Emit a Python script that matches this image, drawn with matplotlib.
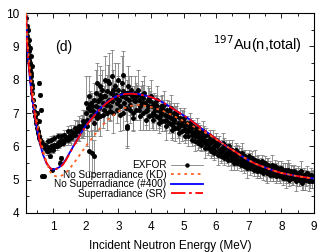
import numpy as np
import matplotlib
matplotlib.use("Agg")
import matplotlib.pyplot as plt
from matplotlib.lines import Line2D
from matplotlib.ticker import MultipleLocator

plt.rcParams['font.family'] = ['Liberation Sans', 'DejaVu Sans']

# -----------------------------
# EXFOR data
# -----------------------------

# steep low-energy branch
low_e = [0.18, 0.19, 0.20, 0.21, 0.22, 0.23, 0.24, 0.25, 0.26, 0.27,
         0.28, 0.29, 0.30, 0.31, 0.32, 0.33, 0.34, 0.35, 0.36, 0.38,
         0.40, 0.42, 0.44, 0.46, 0.48, 0.50, 0.52, 0.54, 0.56, 0.58,
         0.60, 0.62, 0.64, 0.66, 0.68, 0.70, 0.72, 0.74, 0.76, 0.78,
         0.22, 0.25, 0.28, 0.31, 0.34, 0.58, 0.60, 0.63, 0.50, 0.55,
         0.66, 0.71, 0.95, 1.20, 0.90, 1.25]
low_xs = [9.85, 9.6, 9.45, 9.3, 9.2, 9.05, 8.95, 8.85, 8.7, 8.6,
          8.5, 8.4, 8.3, 8.2, 8.1, 7.95, 7.85, 7.75, 7.6, 7.4,
          7.2, 7.05, 6.9, 6.8, 6.7, 6.55, 6.45, 6.4, 6.3, 6.25,
          6.2, 6.15, 6.1, 6.1, 6.05, 6.0, 6.0, 6.05, 5.95, 6.0,
          9.5, 9.2, 8.95, 8.7, 8.4, 7.9, 7.55, 7.1, 7.0, 6.75,
          5.1, 5.1, 5.3, 5.5, 5.7, 5.65]
low_err = [0.08, 0.08, 0.07, 0.07, 0.07, 0.06, 0.06, 0.06, 0.06, 0.06,
           0.06, 0.05, 0.05, 0.05, 0.05, 0.05, 0.05, 0.05, 0.05, 0.05,
           0.05, 0.05, 0.05, 0.05, 0.05, 0.05, 0.05, 0.05, 0.05, 0.05,
           0.1, 0.1, 0.1, 0.1, 0.1, 0.1, 0.1, 0.1, 0.1, 0.1,
           0.05, 0.05, 0.05, 0.05, 0.05, 0.05, 0.05, 0.05, 0.05, 0.05,
           0.05, 0.05, 0.05, 0.05, 0.05, 0.05]

# plateau between the minimum and 2 MeV
mid_e = [0.80, 0.82, 0.85, 0.88, 0.90, 0.92, 0.95, 0.98, 1.00, 1.03,
         1.06, 1.09, 1.12, 1.15, 1.18, 1.21, 1.24, 1.27, 1.30, 1.33,
         1.36, 1.40, 1.44, 1.48, 1.52, 1.56, 1.60, 1.64, 1.68, 1.72,
         1.76, 1.80, 1.84, 1.88, 1.92, 1.96,
         0.84, 0.94, 1.04, 1.14, 1.24, 1.34, 1.45, 1.55, 1.66, 1.78,
         1.90, 2.10, 2.20, 2.25]
mid_xs = [5.85, 5.9, 5.85, 5.95, 5.9, 6.0, 5.95, 6.0, 5.9, 6.05,
          6.0, 6.05, 6.0, 6.1, 6.05, 6.15, 6.1, 6.15, 6.1, 6.2,
          6.2, 6.25, 6.2, 6.3, 6.3, 6.25, 6.35, 6.4, 6.35, 6.45,
          6.5, 6.45, 6.55, 6.6, 6.6, 6.7,
          6.15, 6.2, 6.25, 6.3, 6.3, 6.35, 6.45, 6.45, 6.55, 6.6,
          6.75, 5.85, 5.8, 5.7]
mid_err = [0.1, 0.1, 0.1, 0.1, 0.1, 0.1, 0.1, 0.1, 0.1, 0.1,
           0.1, 0.1, 0.1, 0.1, 0.1, 0.1, 0.1, 0.1, 0.1, 0.1,
           0.15, 0.15, 0.15, 0.15, 0.2, 0.2, 0.2, 0.25, 0.25, 0.3,
           0.3, 0.3, 0.3, 0.35, 0.35, 0.4,
           0.1, 0.1, 0.1, 0.1, 0.1, 0.15, 0.15, 0.2, 0.25, 0.3,
           0.35, 0.6, 0.7, 0.5]

# high-energy cloud, upper part
hiA_e = [2.0, 2.1, 2.2, 2.3, 2.4, 2.5, 2.6, 2.7, 2.8, 2.9,
         3.0, 3.1, 3.2, 3.3, 3.4, 3.5, 3.6, 3.7, 3.8, 3.9,
         4.0, 4.1, 4.2, 4.3, 4.4, 4.5, 4.6, 4.7, 4.8, 4.9,
         5.0, 5.1, 5.2, 5.3, 5.4, 5.5, 5.6, 5.7, 5.8, 5.9,
         6.0, 6.1, 6.2, 6.3, 6.4, 6.5, 6.6, 6.7, 6.8, 6.9,
         7.0, 7.1, 7.2, 7.3, 7.4, 7.5, 7.6, 7.7, 7.8, 7.9,
         8.0, 8.1, 8.2, 8.3, 8.4, 8.5, 8.6, 8.7, 8.8, 8.9, 9.0]
hiA_xs = [7.3, 7.5, 7.2, 7.6, 7.4, 7.7, 7.5, 7.9, 7.6, 7.8,
          7.7, 7.9, 7.6, 7.8, 7.7, 7.6, 7.7, 7.5, 7.6, 7.4,
          7.5, 7.3, 7.4, 7.2, 7.25, 7.1, 7.15, 7.0, 7.0, 6.85,
          6.85, 6.7, 6.7, 6.6, 6.55, 6.45, 6.45, 6.35, 6.3, 6.2,
          6.2, 6.1, 6.1, 6.0, 6.0, 5.9, 5.9, 5.8, 5.8, 5.7,
          5.7, 5.65, 5.6, 5.55, 5.55, 5.5, 5.45, 5.45, 5.4, 5.35,
          5.35, 5.3, 5.3, 5.25, 5.25, 5.2, 5.25, 5.15, 5.2, 5.15, 5.1]
hiA_err = [0.8, 0.6, 0.4, 0.7, 0.5, 0.6, 0.4, 0.9, 0.5, 0.7,
           0.4, 0.8, 0.5, 0.6, 0.4, 0.5, 0.6, 0.3, 0.5, 0.4,
           0.5, 0.3, 0.4, 0.3, 0.4, 0.3, 0.4, 0.3, 0.3, 0.3,
           0.3, 0.2, 0.3, 0.2, 0.3, 0.2, 0.3, 0.2, 0.2, 0.3,
           0.2, 0.2, 0.3, 0.2, 0.2, 0.3, 0.2, 0.2, 0.3, 0.2,
           0.2, 0.2, 0.3, 0.2, 0.2, 0.2, 0.2, 0.3, 0.2, 0.2,
           0.2, 0.2, 0.3, 0.2, 0.2, 0.2, 0.3, 0.2, 0.2, 0.2, 0.2]

# high-energy cloud, lower part
hiB_e = [2.05, 2.15, 2.25, 2.35, 2.45, 2.55, 2.65, 2.75, 2.85, 2.95,
         3.05, 3.15, 3.25, 3.35, 3.45, 3.55, 3.65, 3.75, 3.85, 3.95,
         4.05, 4.15, 4.25, 4.35, 4.45, 4.55, 4.65, 4.75, 4.85, 4.95,
         5.05, 5.15, 5.25, 5.35, 5.45, 5.55, 5.65, 5.75, 5.85, 5.95,
         6.05, 6.15, 6.25, 6.35, 6.45, 6.55, 6.65, 6.75, 6.85, 6.95,
         7.05, 7.15, 7.25, 7.35, 7.45, 7.55, 7.65, 7.75, 7.85, 7.95,
         8.05, 8.15, 8.25, 8.35, 8.45, 8.55, 8.65, 8.75, 8.85, 8.95]
hiB_xs = [6.8, 6.9, 6.7, 7.0, 6.9, 7.1, 7.0, 7.2, 7.0, 7.1,
          7.2, 7.0, 6.6, 7.1, 7.0, 7.1, 6.9, 7.0, 6.8, 6.9,
          6.8, 6.9, 6.7, 6.75, 6.6, 6.7, 6.5, 6.55, 6.4, 6.45,
          6.3, 6.3, 6.2, 6.15, 6.1, 6.05, 5.95, 5.95, 5.85, 5.8,
          5.75, 5.7, 5.65, 5.6, 5.6, 5.5, 5.5, 5.45, 5.4, 5.35,
          5.35, 5.3, 5.25, 5.25, 5.2, 5.2, 5.15, 5.15, 5.1, 5.1,
          5.05, 5.05, 5.0, 5.05, 4.95, 5.0, 4.9, 5.0, 4.95, 4.95]
hiB_err = [0.5, 0.6, 0.4, 0.5, 0.6, 0.4, 0.5, 0.4, 0.6, 0.4,
           0.3, 0.5, 0.6, 0.4, 0.5, 0.3, 0.4, 0.5, 0.3, 0.4,
           0.3, 0.4, 0.3, 0.3, 0.4, 0.3, 0.3, 0.4, 0.3, 0.3,
           0.2, 0.3, 0.2, 0.3, 0.2, 0.2, 0.3, 0.2, 0.2, 0.2,
           0.3, 0.2, 0.2, 0.2, 0.3, 0.2, 0.2, 0.2, 0.2, 0.3,
           0.2, 0.2, 0.2, 0.2, 0.2, 0.3, 0.2, 0.2, 0.2, 0.2,
           0.2, 0.3, 0.2, 0.2, 0.3, 0.2, 0.2, 0.2, 0.3, 0.2]

# high-energy cloud, middle
hiC_e = [2.02, 2.12, 2.22, 2.32, 2.42, 2.52, 2.62, 2.72, 2.82, 2.92,
         3.02, 3.12, 3.22, 3.32, 3.42, 3.52, 3.62, 3.72, 3.82, 3.92,
         4.02, 4.12, 4.22, 4.32, 4.42, 4.52, 4.62, 4.72, 4.82, 4.92,
         5.02, 5.12, 5.22, 5.32, 5.42, 5.52, 5.62, 5.72, 5.82, 5.92,
         6.02, 6.12, 6.22, 6.32, 6.42, 6.52, 6.62, 6.72, 6.82, 6.92,
         7.02, 7.12, 7.22, 7.32, 7.42, 7.52, 7.62, 7.72, 7.82, 7.92,
         8.02, 8.12, 8.22, 8.32, 8.42, 8.52, 8.62, 8.72, 8.82, 8.92,
         2.45, 2.60, 2.80, 3.00, 3.15, 2.35, 2.68, 3.28]
hiC_xs = [7.0, 7.1, 7.05, 7.2, 7.15, 7.3, 7.25, 7.4, 7.35, 7.45,
          7.4, 7.5, 7.45, 7.4, 7.5, 7.35, 7.4, 7.3, 7.3, 7.2,
          7.2, 7.1, 7.1, 7.0, 6.95, 6.9, 6.85, 6.8, 6.7, 6.65,
          6.6, 6.5, 6.45, 6.4, 6.3, 6.25, 6.2, 6.15, 6.1, 6.0,
          6.0, 5.9, 5.85, 5.8, 5.8, 5.7, 5.7, 5.6, 5.6, 5.55,
          5.5, 5.45, 5.4, 5.4, 5.35, 5.35, 5.3, 5.25, 5.25, 5.2,
          5.2, 5.15, 5.15, 5.1, 5.1, 5.1, 5.05, 5.1, 5.05, 5.05,
          7.8, 8.0, 8.1, 8.0, 8.15, 7.9, 7.95, 6.55]
hiC_err = [0.3, 0.2, 0.3, 0.2, 0.3, 0.2, 0.3, 0.2, 0.3, 0.2,
           0.2, 0.3, 0.2, 0.2, 0.3, 0.2, 0.2, 0.3, 0.2, 0.2,
           0.2, 0.2, 0.2, 0.2, 0.2, 0.2, 0.2, 0.2, 0.2, 0.2,
           0.15, 0.15, 0.15, 0.15, 0.15, 0.15, 0.15, 0.15, 0.15, 0.15,
           0.15, 0.15, 0.15, 0.15, 0.15, 0.15, 0.15, 0.15, 0.15, 0.15,
           0.15, 0.15, 0.15, 0.15, 0.15, 0.15, 0.15, 0.15, 0.15, 0.15,
           0.15, 0.15, 0.15, 0.15, 0.15, 0.15, 0.15, 0.15, 0.15, 0.15,
           0.6, 0.7, 0.8, 0.5, 0.7, 0.6, 0.5, 0.6]

# more points in the dense cloud
hiD_e = [2.07, 2.17, 2.27, 2.37, 2.47, 2.57, 2.67, 2.77, 2.87, 2.97,
         3.07, 3.17, 3.27, 3.37, 3.47, 3.57, 3.67, 3.77, 3.87, 3.97,
         4.07, 4.17, 4.27, 4.37, 4.47, 4.57, 4.67, 4.77, 4.87, 4.97,
         5.07, 5.17, 5.27, 5.37, 5.47, 5.57, 5.67, 5.77, 5.87, 5.97,
         6.07, 6.17, 6.27, 6.37, 6.47, 6.57, 6.67, 6.77, 6.87, 6.97,
         7.07, 7.17, 7.27, 7.37, 7.47, 7.57, 7.67, 7.77, 7.87, 7.97,
         8.07, 8.17, 8.27, 8.37, 8.47, 8.57, 8.67, 8.77, 8.87, 8.97]
hiD_xs = [7.15, 7.3, 6.95, 7.35, 7.45, 7.5, 7.35, 7.6, 7.5, 7.3,
          7.55, 7.3, 7.6, 7.25, 7.4, 7.55, 7.2, 7.45, 7.1, 7.35,
          7.0, 7.25, 6.9, 7.1, 6.8, 7.0, 6.7, 6.9, 6.6, 6.75,
          6.45, 6.6, 6.35, 6.5, 6.2, 6.35, 6.1, 6.2, 5.95, 6.1,
          5.85, 5.95, 5.75, 5.9, 5.7, 5.8, 5.6, 5.7, 5.5, 5.6,
          5.45, 5.5, 5.35, 5.45, 5.3, 5.4, 5.25, 5.3, 5.2, 5.25,
          5.15, 5.25, 5.1, 5.2, 5.05, 5.15, 5.0, 5.1, 5.0, 5.1]
hiD_err = [0.4, 0.3, 0.5, 0.3, 0.4, 0.3, 0.5, 0.3, 0.4, 0.3,
           0.4, 0.3, 0.4, 0.3, 0.4, 0.3, 0.3, 0.4, 0.3, 0.3,
           0.3, 0.3, 0.3, 0.3, 0.3, 0.3, 0.3, 0.3, 0.3, 0.3,
           0.25, 0.2, 0.25, 0.2, 0.25, 0.2, 0.25, 0.2, 0.25, 0.2,
           0.2, 0.25, 0.2, 0.2, 0.25, 0.2, 0.2, 0.25, 0.2, 0.2,
           0.2, 0.2, 0.25, 0.2, 0.2, 0.25, 0.2, 0.2, 0.25, 0.2,
           0.2, 0.25, 0.2, 0.2, 0.25, 0.2, 0.3, 0.2, 0.25, 0.2]

hiE_e = [2.04, 2.14, 2.24, 2.34, 2.44, 2.54, 2.64, 2.74, 2.84, 2.94,
         3.04, 3.14, 3.24, 3.34, 3.44, 3.54, 3.64, 3.74, 3.84, 3.94,
         4.04, 4.14, 4.24, 4.34, 4.44, 4.54, 4.64, 4.74, 4.84, 4.94,
         5.04, 5.14, 5.24, 5.34, 5.44, 5.54, 5.64, 5.74, 5.84, 5.94,
         6.04, 6.14, 6.24, 6.34, 6.44, 6.54, 6.64, 6.74, 6.84, 6.94,
         7.04, 7.14, 7.24, 7.34, 7.44, 7.54, 7.64, 7.74, 7.84, 7.94,
         8.04, 8.14, 8.24, 8.34, 8.44, 8.54, 8.64, 8.74, 8.84, 8.94]
hiE_xs = [6.6, 7.25, 7.4, 6.85, 7.55, 6.95, 7.65, 7.05, 7.7, 7.55,
          6.95, 7.65, 7.15, 7.6, 6.85, 7.5, 7.1, 7.55, 7.05, 7.45,
          6.95, 7.2, 6.85, 7.15, 6.75, 7.05, 6.65, 6.9, 6.55, 6.8,
          6.5, 6.45, 6.55, 6.3, 6.4, 6.15, 6.3, 6.05, 6.15, 5.9,
          6.05, 5.8, 5.95, 5.7, 5.85, 5.6, 5.75, 5.55, 5.65, 5.45,
          5.55, 5.4, 5.5, 5.3, 5.4, 5.25, 5.35, 5.2, 5.3, 5.15,
          5.25, 5.1, 5.2, 5.05, 5.15, 5.05, 5.1, 5.0, 5.05, 5.0]
hiE_err = [0.6, 0.4, 0.5, 0.4, 0.6, 0.4, 0.5, 0.3, 0.6, 0.4,
           0.5, 0.4, 0.4, 0.5, 0.4, 0.4, 0.3, 0.4, 0.4, 0.3,
           0.4, 0.3, 0.3, 0.4, 0.3, 0.3, 0.4, 0.3, 0.3, 0.3,
           0.3, 0.25, 0.3, 0.25, 0.3, 0.25, 0.3, 0.25, 0.2, 0.25,
           0.2, 0.25, 0.3, 0.2, 0.25, 0.2, 0.3, 0.2, 0.25, 0.2,
           0.25, 0.2, 0.2, 0.25, 0.2, 0.3, 0.2, 0.25, 0.2, 0.2,
           0.25, 0.2, 0.3, 0.2, 0.2, 0.25, 0.2, 0.3, 0.2, 0.25]

# -----------------------------
# Model curves
# -----------------------------

sr_e = [0.17, 0.20, 0.25, 0.30, 0.35, 0.40, 0.45, 0.50, 0.55, 0.60,
        0.65, 0.70, 0.80, 0.90, 1.00, 1.10, 1.20, 1.30, 1.40, 1.50,
        1.60, 1.80, 2.00, 2.20, 2.40, 2.60, 2.80, 3.00, 3.20, 3.40,
        3.60, 3.80, 4.00, 4.20, 4.40, 4.60, 4.80, 5.00, 5.20, 5.40,
        5.60, 5.80, 6.00, 6.20, 6.40, 6.60, 6.80, 7.00, 7.20, 7.40,
        7.60, 7.80, 8.00, 8.20, 8.40, 8.60, 8.80, 9.00]
sr_xs = [10.0, 9.1, 8.45, 7.95, 7.55, 7.2, 6.85, 6.6, 6.35, 6.1,
         5.9, 5.75, 5.5, 5.35, 5.28, 5.32, 5.36, 5.45, 5.6, 5.78,
         5.95, 6.3, 6.6, 6.85, 7.08, 7.27, 7.42, 7.52, 7.57, 7.58,
         7.56, 7.53, 7.48, 7.4, 7.3, 7.18, 7.05, 6.93, 6.8, 6.65,
         6.5, 6.37, 6.22, 6.08, 5.95, 5.83, 5.7, 5.58, 5.48, 5.4,
         5.33, 5.26, 5.2, 5.16, 5.12, 5.09, 5.06, 5.03]

n400_e = [0.17, 0.20, 0.25, 0.30, 0.35, 0.40, 0.45, 0.50, 0.55, 0.60,
          0.65, 0.70, 0.80, 0.90, 1.00, 1.10, 1.20, 1.30, 1.40, 1.50,
          1.60, 1.80, 2.00, 2.20, 2.40, 2.60, 2.80, 3.00, 3.20, 3.40,
          3.60, 3.80, 4.00, 4.20, 4.40, 4.60, 4.80, 5.00, 5.20, 5.40,
          5.60, 5.80, 6.00, 6.20, 6.40, 6.60, 6.80, 7.00, 7.20, 7.40,
          7.60, 7.80, 8.00, 8.20, 8.40, 8.60, 8.80, 9.00]
n400_xs = [10.0, 9.05, 8.4, 7.9, 7.5, 7.15, 6.82, 6.55, 6.3, 6.08,
           5.88, 5.72, 5.48, 5.35, 5.3, 5.33, 5.38, 5.48, 5.62, 5.8,
           5.97, 6.32, 6.62, 6.87, 7.1, 7.29, 7.43, 7.53, 7.58, 7.59,
           7.57, 7.53, 7.48, 7.4, 7.3, 7.18, 7.05, 6.93, 6.8, 6.65,
           6.5, 6.37, 6.22, 6.08, 5.95, 5.83, 5.7, 5.58, 5.48, 5.4,
           5.33, 5.26, 5.2, 5.16, 5.12, 5.09, 5.06, 5.03]

kd_e = [0.17, 0.20, 0.25, 0.30, 0.35, 0.40, 0.45, 0.50, 0.55, 0.60,
        0.70, 0.80, 0.90, 1.00, 1.10, 1.20, 1.30, 1.40, 1.50, 1.60,
        1.80, 2.00, 2.20, 2.40, 2.60, 2.80, 3.00, 3.20, 3.40, 3.60,
        3.80, 4.00, 4.20, 4.40, 4.60, 4.80, 5.00, 5.20, 5.40, 5.60,
        5.80, 6.00, 6.20, 6.40, 6.60, 6.80, 7.00, 7.20, 7.40, 7.60,
        7.80, 8.00, 8.20, 8.40, 8.60, 8.80, 9.00]
kd_xs = [10.0, 9.3, 8.7, 8.2, 7.8, 7.4, 7.05, 6.75, 6.5, 6.25,
         5.85, 5.5, 5.25, 5.12, 5.1, 5.1, 5.14, 5.22, 5.32, 5.45,
         5.72, 6.0, 6.25, 6.5, 6.72, 6.9, 7.05, 7.15, 7.22, 7.24,
         7.22, 7.18, 7.12, 7.05, 6.96, 6.86, 6.76, 6.65, 6.55, 6.45,
         6.34, 6.21, 6.08, 5.95, 5.83, 5.7, 5.58, 5.48, 5.4, 5.33,
         5.26, 5.2, 5.16, 5.12, 5.09, 5.06, 5.03]

# -----------------------------
# Plot
# -----------------------------

fig = plt.figure(figsize=(3.35, 2.52), dpi=100)
ax = fig.add_axes([0.078, 0.155, 0.859, 0.793])

groups = [(low_e, low_xs, low_err), (mid_e, mid_xs, mid_err),
          (hiA_e, hiA_xs, hiA_err), (hiB_e, hiB_xs, hiB_err),
          (hiC_e, hiC_xs, hiC_err), (hiD_e, hiD_xs, hiD_err),
          (hiE_e, hiE_xs, hiE_err)]

for e, xs, err in groups:
    ax.errorbar(e, xs, yerr=err, fmt='none', ecolor='#7f7f7f',
                elinewidth=0.6, capsize=1.3, capthick=0.6, zorder=1)
for e, xs, err in groups:
    ax.plot(e, xs, 'o', color='black', markersize=3.6,
            markeredgewidth=0, zorder=2)

ax.plot(n400_e, n400_xs, color='#0000ff', lw=1.3, zorder=3)
ax.plot(sr_e, sr_xs, color='#ff0000', lw=1.3, zorder=4,
        dashes=(8, 2, 1.5, 2))
ax.plot(kd_e, kd_xs, color='#ff6020', lw=1.3, zorder=5,
        dashes=(1.5, 2.2))

ax.set_xlim(0.17, 9)
ax.set_ylim(4, 10)
ax.xaxis.set_major_locator(MultipleLocator(1))
ax.xaxis.set_minor_locator(MultipleLocator(0.5))
ax.yaxis.set_major_locator(MultipleLocator(1))
ax.yaxis.set_minor_locator(MultipleLocator(0.5))
ax.tick_params(which='both', direction='in', top=True, right=True,
               labelsize=8.5, width=0.6)
ax.tick_params(axis='x', pad=6)
ax.tick_params(axis='y', pad=5)
ax.tick_params(which='major', length=3.5)
ax.tick_params(which='minor', length=2)
for s in ax.spines.values():
    s.set_linewidth(0.8)

ax.set_xlabel("Incident Neutron Energy (MeV)", fontsize=8.5, labelpad=5)

ax.text(0.1, 0.81, "(d)", transform=ax.transAxes, fontsize=10)
ax.text(0.958, 0.815, r"$^{197}$Au(n,total)", transform=ax.transAxes,
        fontsize=10.5, ha='right')

handles = [
    Line2D([], [], color='#7f7f7f', lw=0.6, marker='o', markersize=3.2,
           markerfacecolor='black', markeredgewidth=0),
    Line2D([], [], color='#ff6020', lw=1.3, dashes=(1.5, 2.2)),
    Line2D([], [], color='#0000ff', lw=1.3),
    Line2D([], [], color='#ff0000', lw=1.3, dashes=(8, 2, 1.5, 2)),
]
labels = ["EXFOR", "No Superradiance (KD)", "No Superradiance (#400)",
          "Superradiance (SR)"]
ax.legend(handles, labels, loc='lower right', bbox_to_anchor=(0.64, 0.035),
          frameon=False, markerfirst=False, fontsize=7.2, handlelength=3.2,
          handletextpad=0.5, labelspacing=-0.05, borderpad=0.2)

fig.savefig("out.png", dpi=100)
